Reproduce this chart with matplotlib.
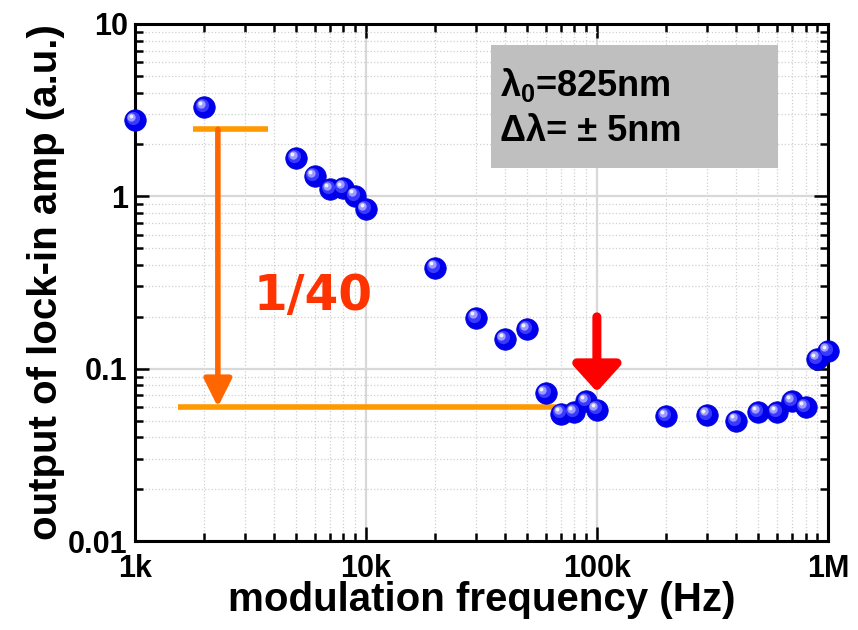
import numpy as np
import matplotlib
matplotlib.use('Agg')
import matplotlib.pyplot as plt
import matplotlib.transforms as mtransforms
from matplotlib.ticker import LogLocator, NullFormatter, FixedLocator, FixedFormatter

# data
freq = [1e3, 2e3, 5e3, 6e3, 7e3, 8e3, 9e3, 1e4, 2e4, 3e4, 4e4, 5e4, 6e4, 7e4,
        8e4, 9e4, 1e5, 2e5, 3e5, 4e5, 5e5, 6e5, 7e5, 8e5, 9e5, 1e6]
amp = [2.77, 3.29, 1.66, 1.31, 1.10, 1.12, 1.01, 0.84, 0.386, 0.198, 0.148,
       0.169, 0.072, 0.055, 0.056, 0.065, 0.058, 0.053, 0.054, 0.050, 0.056,
       0.056, 0.065, 0.060, 0.114, 0.127]

xticks = [1e3, 1e4, 1e5, 1e6]
xlabels = ['1k', '10k', '100k', '1M']
yticks = [0.01, 0.1, 1, 10]
ylabels = ['0.01', '0.1', '1', '10']

sans = ['Liberation Sans', 'DejaVu Sans']
plt.rcParams['mathtext.fontset'] = 'custom'
plt.rcParams['mathtext.rm'] = 'Liberation Sans:bold'
plt.rcParams['mathtext.bf'] = 'Liberation Sans:bold'

fig = plt.figure(figsize=(8.58, 6.30), dpi=100)
ax = fig.add_axes([0.157, 0.141, 0.808, 0.821])
ax.set_xscale('log')
ax.set_yscale('log')
ax.set_xlim(1e3, 1e6)
ax.set_ylim(0.01, 10)

# grid
ax.grid(True, which='major', color='#d8d8d8', lw=1.6, ls='-', zorder=0)
ax.grid(True, which='minor', color='#d0d0d0', lw=0.9, ls=':', zorder=0)
ax.set_axisbelow(True)

# ticks
ax.xaxis.set_major_locator(FixedLocator(xticks))
ax.xaxis.set_major_formatter(FixedFormatter(xlabels))
ax.yaxis.set_major_locator(FixedLocator(yticks))
ax.yaxis.set_major_formatter(FixedFormatter(ylabels))
ax.xaxis.set_minor_locator(LogLocator(base=10, subs=np.arange(2, 10), numticks=20))
ax.yaxis.set_minor_locator(LogLocator(base=10, subs=np.arange(2, 10), numticks=20))
ax.xaxis.set_minor_formatter(NullFormatter())
ax.yaxis.set_minor_formatter(NullFormatter())
ax.tick_params(which='both', direction='in', top=True, right=True, width=1.8)
ax.tick_params(which='major', length=10)
ax.tick_params(which='minor', length=6)
ax.tick_params(axis='x', pad=9)
ax.tick_params(axis='y', pad=5)
for lab in ax.get_xticklabels() + ax.get_yticklabels():
    lab.set_fontfamily(sans)
    lab.set_fontweight('bold')
    lab.set_fontsize(22)
for s in ax.spines.values():
    s.set_linewidth(2.2)

ax.set_xlabel('modulation frequency (Hz)', fontsize=29, fontweight='bold',
              family=sans, labelpad=-2)
ax.set_ylabel('output of lock-in amp (a.u.)', fontsize=29, fontweight='bold',
              family=sans, labelpad=2)

# blue "sphere" markers
ax.plot(freq, amp, 'o', ms=15.5, color='#0000ee', mec='#0000cc', mew=0.5,
        zorder=5, clip_on=False)
t1 = mtransforms.offset_copy(ax.transData, fig=fig, x=-1.5, y=1.5, units='points')
ax.plot(freq, amp, 'o', ms=9.5, color='#3a3aff', mew=0, transform=t1, zorder=6, clip_on=False)
t2 = mtransforms.offset_copy(ax.transData, fig=fig, x=-2.5, y=2.5, units='points')
ax.plot(freq, amp, 'o', ms=6, color='#9a9aff', mew=0, transform=t2, zorder=7, clip_on=False)
t3 = mtransforms.offset_copy(ax.transData, fig=fig, x=-3, y=3, units='points')
ax.plot(freq, amp, 'o', ms=2.8, color='#f0f0ff', mew=0, transform=t3, zorder=8, clip_on=False)

# orange bracket
ax.plot([1780, 3760], [2.45, 2.45], color='#ff9900', lw=4, zorder=4, solid_capstyle='butt')
ax.plot([1535, 66400], [0.060, 0.060], color='#ff9900', lw=4, zorder=4, solid_capstyle='butt')
ax.annotate('', xy=(2290, 0.060), xytext=(2290, 2.45),
            arrowprops=dict(arrowstyle='-|>,head_length=1.7,head_width=0.85',
                            color='#ff6600', lw=4, shrinkA=0, shrinkB=0), zorder=4)
ax.text(5900, 0.265, '1/40', color='#ff3300', fontsize=35, fontweight='bold',
        family='DejaVu Sans', ha='center', va='center', zorder=4)

# red arrow at 100k
ax.annotate('', xy=(1e5, 0.0735), xytext=(1e5, 0.2),
            arrowprops=dict(arrowstyle='-|>,head_length=1.6,head_width=1.45',
                            color='#ff0000', lw=6.5, shrinkA=0, shrinkB=0), zorder=9)

# gray box with wavelength info
box = plt.Rectangle((0.514, 0.721), 0.414, 0.238, transform=ax.transAxes,
                    facecolor='#bfbfbf', edgecolor='none', zorder=3)
ax.add_patch(box)
ax.text(0.527, 0.882, '\u03bb$_{0}$=825nm', transform=ax.transAxes,
        fontsize=26, fontweight='bold', family=sans,
        va='center', ha='left', zorder=4)
ax.text(0.527, 0.793, '\u0394\u03bb= \u00b1 5nm', transform=ax.transAxes,
        fontsize=26, fontweight='bold', family=sans,
        va='center', ha='left', zorder=4)

fig.savefig('out.png', dpi=100)
